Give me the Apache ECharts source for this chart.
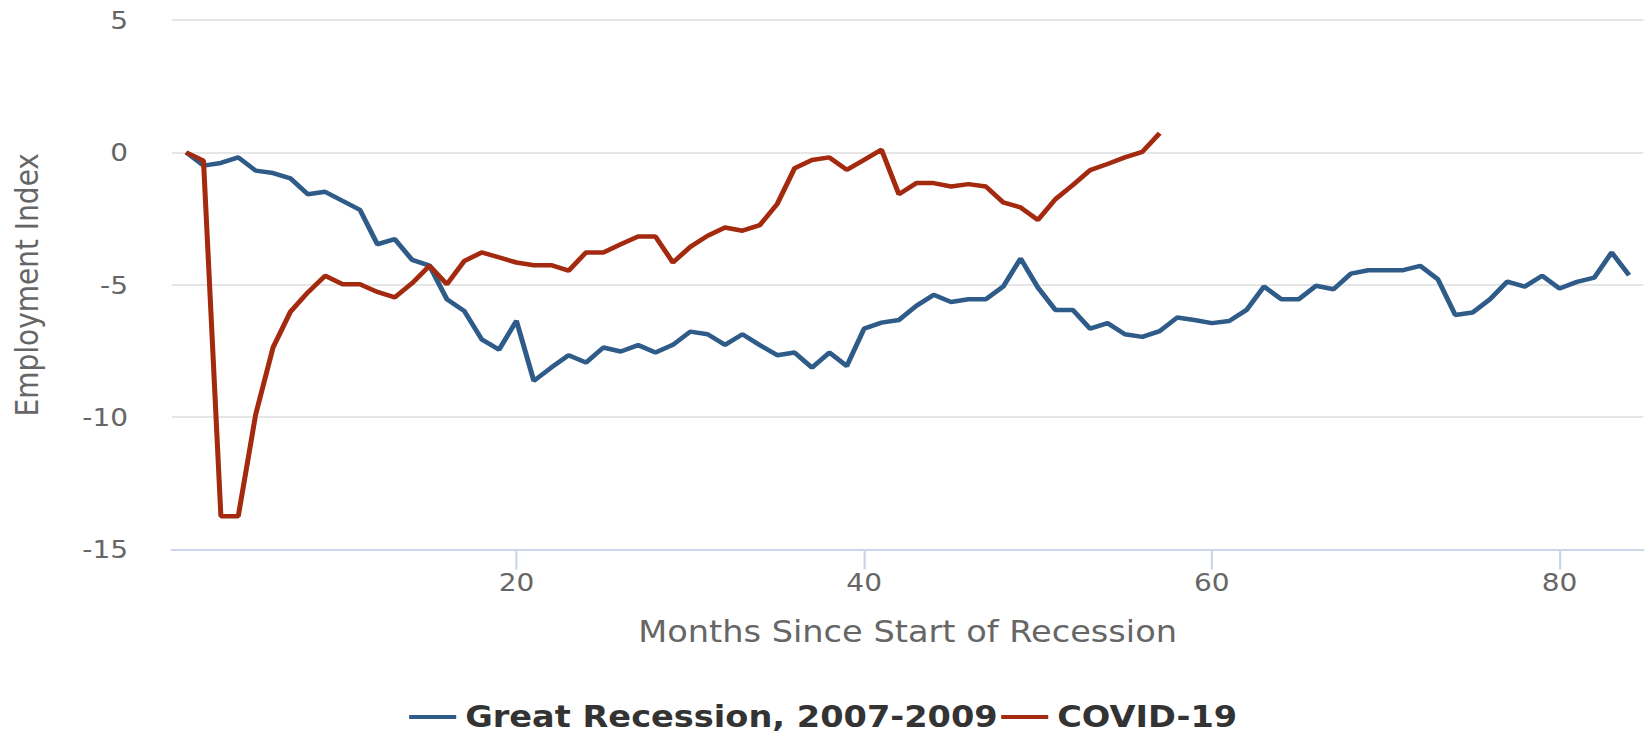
<!DOCTYPE html>
<html>
<head>
<meta charset="utf-8">
<script src="https://cdn.jsdelivr.net/npm/echarts@6/dist/echarts.min.js"></script>
<style>
  html, body { margin: 0; padding: 0; background: #ffffff; overflow: hidden; }
  #chart { width: 1469.6px; height: 735px; transform: scaleX(1.12); transform-origin: 0 0; }
</style>
</head>
<body>
<div id="chart"></div>
<script>
// Months since start of recession
const months = [1,2,3,4,5,6,7,8,9,10,11,12,13,14,15,16,17,18,19,20,
  21,22,23,24,25,26,27,28,29,30,31,32,33,34,35,36,37,38,39,40,
  41,42,43,44,45,46,47,48,49,50,51,52,53,54,55,56,57,58,59,60,
  61,62,63,64,65,66,67,68,69,70,71,72,73,74,75,76,77,78,79,80,
  81,82,83,84];

// Great Recession, 2007-2009 (months 1..84)
const greatRecession = [0,-0.5,-0.4,-0.19,-0.69,-0.78,-0.98,-1.58,-1.49,-1.83,
  -2.17,-3.47,-3.28,-4.06,-4.28,-5.55,-5.99,-7.06,-7.45,-6.36,
  -8.63,-8.13,-7.66,-7.94,-7.37,-7.52,-7.28,-7.56,-7.27,-6.77,
  -6.87,-7.27,-6.87,-7.28,-7.66,-7.56,-8.13,-7.56,-8.07,-6.66,
  -6.43,-6.33,-5.80,-5.38,-5.65,-5.55,-5.55,-5.07,-4.01,-5.11,
  -5.95,-5.95,-6.66,-6.45,-6.87,-6.97,-6.75,-6.24,-6.33,-6.45,
  -6.37,-5.95,-5.07,-5.55,-5.55,-5.04,-5.17,-4.58,-4.45,-4.45,
  -4.45,-4.29,-4.79,-6.14,-6.05,-5.55,-4.88,-5.07,-4.66,-5.14,
  -4.89,-4.73,-3.78,-4.64];

// COVID-19 (months 1..57)
const covid19 = [0,-0.32,-13.74,-13.74,-9.9,-7.37,-6.02,-5.29,-4.66,-4.98,
  -4.98,-5.27,-5.48,-4.94,-4.28,-4.98,-4.1,-3.78,-3.97,-4.16,
  -4.26,-4.26,-4.47,-3.78,-3.78,-3.47,-3.18,-3.18,-4.16,-3.57,
  -3.15,-2.84,-2.96,-2.75,-1.95,-0.6,-0.29,-0.19,-0.66,-0.28,
  0.1,-1.58,-1.16,-1.16,-1.29,-1.2,-1.29,-1.89,-2.08,-2.55,
  -1.77,-1.24,-0.67,-0.44,-0.19,0.02,0.72];

const xTickValues = [20, 40, 60, 80];
const seriesNames = ['Great Recession, 2007-2009', 'COVID-19'];
const xTitle = 'Months Since Start of Recession';
const yTitle = 'Employment Index';

const FONT = 'DejaVu Sans';

const chart = echarts.init(document.getElementById('chart'), null, { renderer: 'svg' });

chart.setOption({
  backgroundColor: '#ffffff',
  animation: false,
  grid: { left: 153.3, right: 2.6, top: 20, bottom: 185.5, containLabel: false },
  legend: {
    left: 'center',
    top: 702,
    padding: 0,
    itemGap: 3,
    itemWidth: 42,
    itemHeight: 4,
    icon: 'rect',
    data: seriesNames,
    textStyle: { fontFamily: FONT, fontSize: 30, lineHeight: 30, fontWeight: 'bold', color: '#333333', padding: [0, 0, 0, 3] }
  },
  xAxis: {
    type: 'value',
    min: 0.17,
    max: 84.83,
    name: xTitle,
    nameLocation: 'middle',
    nameGap: 67,
    nameTextStyle: { fontFamily: FONT, fontSize: 30, color: '#666666' },
    axisLine: { show: true, onZero: false, lineStyle: { color: '#ccd6eb', width: 2 } },
    axisTick: { show: true, length: 20, customValues: xTickValues, lineStyle: { color: '#ccd6eb', width: 2 } },
    axisLabel: { customValues: xTickValues, margin: 20, fontFamily: FONT, fontSize: 25, color: '#666666' },
    splitLine: { show: false }
  },
  yAxis: {
    type: 'value',
    min: -15,
    max: 5,
    interval: 5,
    name: yTitle,
    nameLocation: 'middle',
    nameGap: 115,
    nameTextStyle: { fontFamily: FONT, fontSize: 28, color: '#666666' },
    axisLine: { show: false },
    axisTick: { show: false },
    axisLabel: { margin: 39, fontFamily: FONT, fontSize: 25, color: '#666666' },
    splitLine: { show: true, lineStyle: { color: '#e6e6e6', width: 2 } }
  },
  series: [
    {
      name: seriesNames[0],
      type: 'line',
      data: greatRecession.map((v, i) => [months[i], v]),
      showSymbol: false,
      symbol: 'none',
      lineStyle: { color: '#2f5b88', width: 4.5 },
      itemStyle: { color: '#2f5b88' },
      z: 2
    },
    {
      name: seriesNames[1],
      type: 'line',
      data: covid19.map((v, i) => [months[i], v]),
      showSymbol: false,
      symbol: 'none',
      lineStyle: { color: '#a3290f', width: 4.5 },
      itemStyle: { color: '#a3290f' },
      z: 3
    }
  ]
});
</script>
</body>
</html>
